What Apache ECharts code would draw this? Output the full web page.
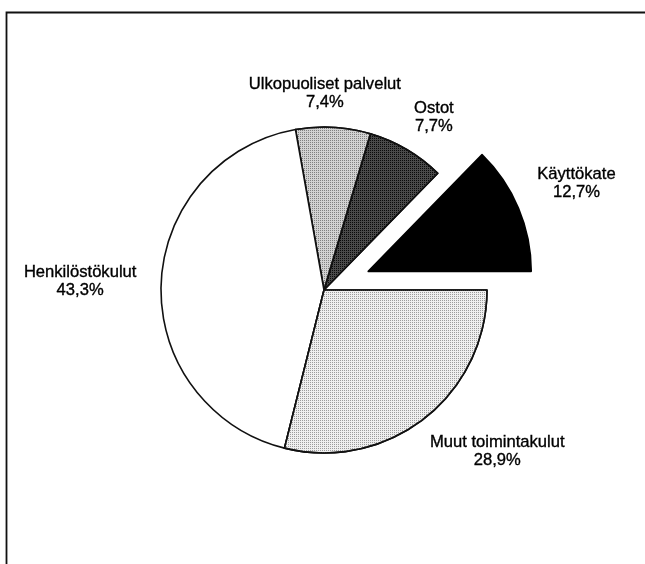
<!DOCTYPE html>
<html>
<head>
<meta charset="utf-8">
<script src="https://cdn.jsdelivr.net/npm/echarts@6/dist/echarts.min.js"></script>
<style>
html,body{margin:0;padding:0;background:#fff;}
#chart{width:645px;height:564px;}
</style>
</head>
<body>
<div id="chart"></div>
<script>
// Data (counter-clockwise from 3 o'clock)
var categories = ['Käyttökate', 'Ostot', 'Ulkopuoliset palvelut', 'Henkilöstökulut', 'Muut toimintakulut'];
var values = [12.7, 7.7, 7.4, 43.3, 28.9];
var valueLabels = ['12,7%', '7,7%', '7,4%', '43,3%', '28,9%'];
var explodedIndex = 0;

// Styles (not data)
var baseColors = ['#000000', '#4a4a4a', '#d2d2d2', '#ffffff', '#efefef'];
var dotColors  = [null, '#0a0a0a', '#808080', null, '#9c9c9c'];
// label placement: [angle shift in degrees from slice mid-angle, distance from pie centre]
var labelPlacement = [[0, 274], [-2, 205], [3, 197], [0, 244], [9, 237]];

var CX = 324, CY = 290, R = 163;
var total = values.reduce(function(a, b){ return a + b; }, 0);
var midAngles = [];
(function(){
  var acc = 0;
  for (var i = 0; i < values.length; i++) {
    var a = values[i] / total * 360;
    midAngles.push(acc + a / 2);
    acc += a;
  }
})();

var sliceData = categories.map(function(name, i){
  var st = { color: baseColors[i], borderColor: i === 0 ? '#000' : '#111111', borderWidth: 1.6 };
  if (dotColors[i]) {
    st.decal = { symbol: 'rect', symbolSize: 1, dashArrayX: [1, 1], dashArrayY: [1, 1], color: dotColors[i] };
  }
  return { name: name, value: values[i], selected: i === explodedIndex, itemStyle: st };
});
var labelData = categories.map(function(name, i){
  return { name: name, value: values[i] };
});

var chart = echarts.init(document.getElementById('chart'), null, { renderer: 'canvas' });
chart.setOption({
  animation: false,
  backgroundColor: '#ffffff',
  graphic: [{
    type: 'rect',
    shape: { x: 6.5, y: 12.5, width: 700, height: 560 },
    style: { fill: 'none', stroke: '#111111', lineWidth: 1.8 },
    silent: true
  }],
  series: [{
    type: 'pie',
    center: [CX, CY],
    radius: [0, R],
    startAngle: 0,
    clockwise: false,
    selectedMode: 'single',
    selectedOffset: 48,
    avoidLabelOverlap: false,
    emphasis: { disabled: true },
    select: { itemStyle: {} },
    label: { show: false },
    labelLine: { show: false },
    data: sliceData
  }, {
    type: 'pie',
    center: [CX, CY],
    radius: [0, R],
    startAngle: 0,
    clockwise: false,
    silent: true,
    selectedMode: false,
    avoidLabelOverlap: false,
    emphasis: { disabled: true },
    itemStyle: { color: 'rgba(0,0,0,0)', borderWidth: 0 },
    label: {
      show: true,
      position: 'outside',
      formatter: function(p){ return p.name + '\n' + valueLabels[p.dataIndex]; },
      fontFamily: 'Liberation Sans, Arial, Helvetica, sans-serif',
      fontSize: 16.6,
      lineHeight: 18,
      color: '#000000',
      textBorderColor: '#000000',
      textBorderWidth: 0.35,
      align: 'center'
    },
    labelLine: { show: false },
    labelLayout: function(params){
      var i = params.dataIndex;
      var pl = labelPlacement[i];
      var ang = (midAngles[i] + pl[0]) * Math.PI / 180;
      var x = CX + pl[1] * Math.cos(ang);
      var y = CY - pl[1] * Math.sin(ang);
      return { x: x, y: y, align: 'center', verticalAlign: 'middle' };
    },
    data: labelData
  }]
});
</script>
</body>
</html>
